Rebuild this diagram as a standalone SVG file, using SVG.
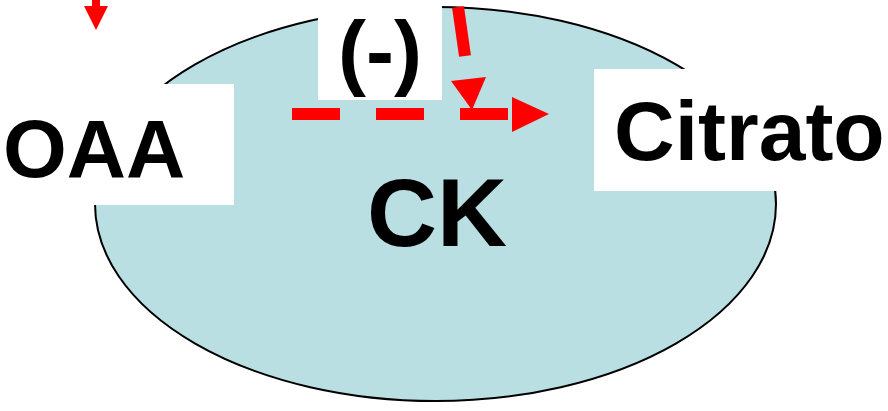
<svg xmlns="http://www.w3.org/2000/svg" width="888" height="411" viewBox="0 0 888 411">
<style>
.lbl{font-family:"Liberation Sans",Arial,sans-serif;font-weight:bold;fill:#000}
.box{fill:#fff}
.red{fill:#ff0000}
</style>
<rect width="888" height="411" fill="#fff"/>
<g id="CK">
<ellipse cx="435.5" cy="204" rx="340.5" ry="197" fill="#b9dfe3" stroke="#000" stroke-width="2"/>
<text class="lbl" x="437" y="246" font-size="97" text-anchor="middle">CK</text>
</g>
<g id="OAA">
<rect class="box" x="0" y="84" width="234" height="121"/>
<text class="lbl" x="3" y="177" font-size="82">OAA</text>
</g>
<g id="inhib">
<rect class="box" x="318" y="0" width="124" height="100"/>
<text class="lbl" x="380" y="80" font-size="84" text-anchor="middle">(-)</text>
</g>
<g id="Citrato">
<rect class="box" x="594" y="69" width="294" height="122"/>
<text class="lbl" x="614" y="160" font-size="84">Citrato</text>
</g>
<g id="connectors">
<rect class="red" x="92" y="0" width="8" height="7"/>
<polygon class="red" points="84,6 108,6 96,30"/>
<line x1="292" y1="114" x2="510" y2="114" stroke="#ff0000" stroke-width="12" stroke-dasharray="48 36"/>
<polygon class="red" points="512,97 549,114 512,132"/>
<line x1="458" y1="7" x2="465" y2="56" stroke="#ff0000" stroke-width="12"/>
<polygon class="red" points="451,81 486,77 472,110"/>
</g>
</svg>
